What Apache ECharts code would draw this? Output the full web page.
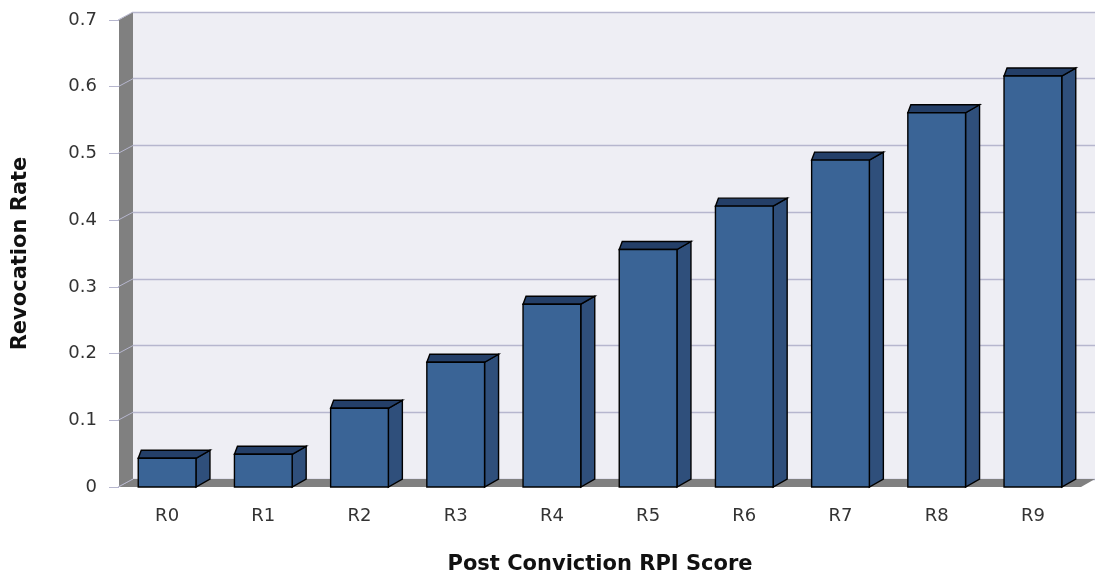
<!DOCTYPE html>
<html>
<head>
<meta charset="utf-8">
<script src="https://cdn.jsdelivr.net/npm/echarts@6/dist/echarts.min.js"></script>
<style>html,body{margin:0;padding:0;background:#fff;}#c{width:1098px;height:581px;}</style>
</head>
<body>
<div id="c"></div>
<script>
var categories = ['R0','R1','R2','R3','R4','R5','R6','R7','R8','R9'];
var revocationRate = [0.043, 0.049, 0.118, 0.187, 0.274, 0.356, 0.421, 0.490, 0.561, 0.616];
var yTicks = [0, 0.1, 0.2, 0.3, 0.4, 0.5, 0.6, 0.7];

var DX = 14, DY = -8;
var FONT = '"DejaVu Sans", sans-serif';

var chart = echarts.init(document.getElementById('c'));

function wallsRender(params, api) {
  var cs = params.coordSys;
  var x0 = cs.x, y0 = cs.y, x1 = cs.x + cs.width, y1 = cs.y + cs.height;
  var children = [];
  children.push({type:'polygon', shape:{points:[[x0,y0],[x0+DX,y0+DY],[x0+DX,y1+DY],[x0,y1]]}, style:{fill:'#808080'}});
  children.push({type:'polygon', shape:{points:[[x0,y1],[x0+DX,y1+DY],[x1+DX,y1+DY],[x1,y1]]}, style:{fill:'#808080'}});
  for (var i = 0; i < yTicks.length; i++) {
    var p = api.coord([0, yTicks[i]]);
    var yy = p[1];
    children.push({type:'line', shape:{x1:x0-1, y1:yy, x2:x0+DX, y2:yy+DY}, style:{stroke:'#b6b6ce', lineWidth:1}});
  }
  return {type:'group', children: children};
}

function barRender(params, api) {
  var idx = api.value(0);
  var val = api.value(1);
  var top = api.coord([idx, val]);
  var base = api.coord([idx, 0]);
  var w = api.size([1, 0])[0] * 0.6;
  var xl = top[0] - w / 2, xr = top[0] + w / 2;
  var yt = top[1], yb = base[1];
  var stroke = {stroke:'#000', lineWidth:1.4, lineJoin:'miter'};
  return {
    type:'group',
    children:[
      {type:'polygon', shape:{points:[[xr,yt],[xr+DX,yt+DY],[xr+DX,yb+DY],[xr,yb]]}, style:Object.assign({fill:'#2f4f7b'}, stroke)},
      {type:'polygon', shape:{points:[[xl,yt],[xl+3,yt+DY],[xr+DX,yt+DY],[xr,yt]]}, style:Object.assign({fill:'#243f68'}, stroke)},
      {type:'rect', shape:{x:xl, y:yt, width:w, height:yb-yt}, style:Object.assign({fill:'#3a6496'}, stroke)}
    ]
  };
}

var option = {
  backgroundColor:'#ffffff',
  animation:false,
  grid:[
    {left:119, right:17, top:20, bottom:94, containLabel:false, outerBoundsMode:'none'},
    {left:119+DX, right:17-DX, top:20+DY, bottom:94-DY, show:true, backgroundColor:'#eeeef4', borderWidth:0, outerBoundsMode:'none'}
  ],
  xAxis:[
    {type:'category', gridIndex:0, data:categories,
     axisLine:{show:false}, axisTick:{show:false},
     axisLabel:{color:'#333', fontFamily:FONT, fontSize:18, margin:20},
     name:'Post Conviction RPI Score', nameLocation:'middle', nameGap:67,
     nameTextStyle:{color:'#111', fontFamily:FONT, fontSize:21, fontWeight:'bold'}},
    {type:'category', gridIndex:1, data:categories, show:false}
  ],
  yAxis:[
    {type:'value', gridIndex:0, min:0, max:0.7, interval:0.1,
     axisLine:{show:false},
     axisTick:{show:true, length:10, lineStyle:{color:'#b6b6ce'}},
     axisLabel:{color:'#333', fontFamily:FONT, fontSize:18, margin:22},
     splitLine:{show:false},
     name:'Revocation Rate', nameLocation:'middle', nameGap:88, nameRotate:90,
     nameTextStyle:{color:'#111', fontFamily:FONT, fontSize:21, fontWeight:'bold'}},
    {type:'value', gridIndex:1, min:0, max:0.7, interval:0.1,
     axisLine:{show:false}, axisTick:{show:false}, axisLabel:{show:false},
     splitLine:{show:true, lineStyle:{color:'#b6b6ce', width:1.3}}}
  ],
  series:[
    {type:'custom', xAxisIndex:0, yAxisIndex:0, z:1, data:[[0,0]], renderItem:wallsRender, silent:true},
    {type:'custom', xAxisIndex:0, yAxisIndex:0, z:3,
     data:revocationRate.map(function(v,i){return [i,v];}),
     encode:{x:0, y:1}, renderItem:barRender}
  ]
};
chart.setOption(option);
</script>
</body>
</html>
